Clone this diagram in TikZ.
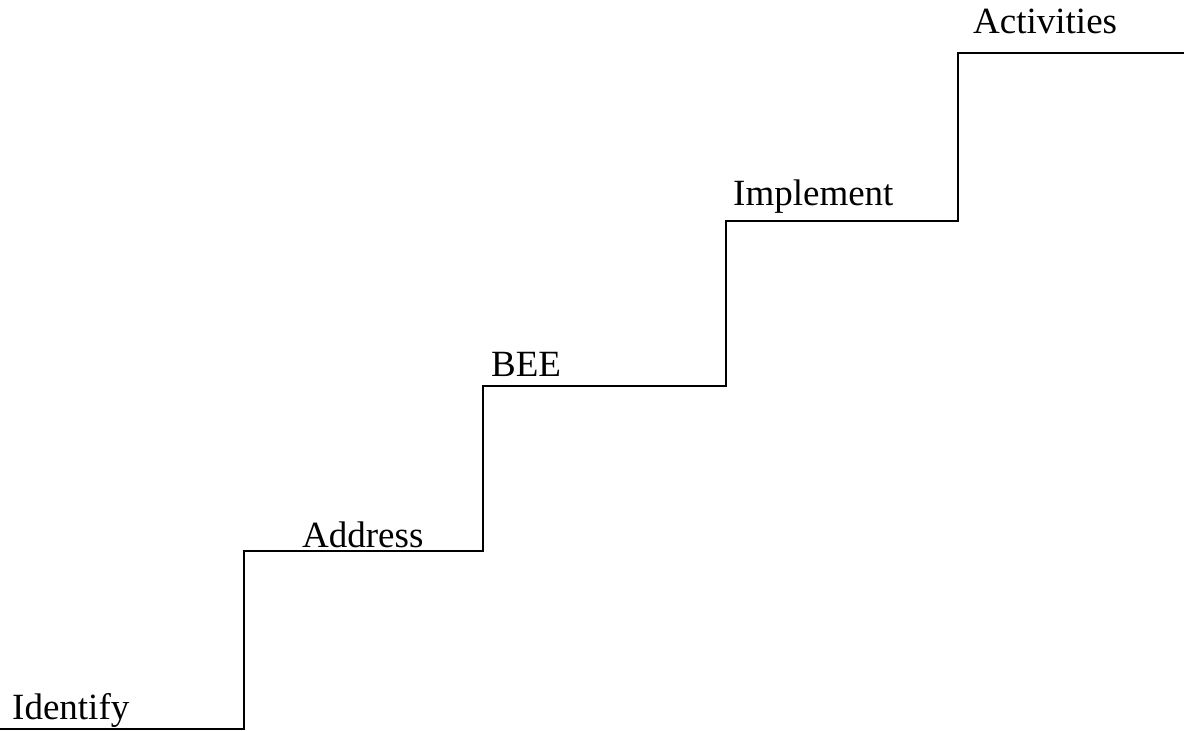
\documentclass[tikz,border=0pt]{standalone}
\usepackage{fontspec}
\setmainfont{Liberation Serif}
\usepackage{tikz}
\tikzset
{
  StepLabelStyle/.style =
  {
    anchor = base west,
    inner sep = 0pt,
    font = \fontsize{37}{40}\selectfont,
  },
  StairLineStyle/.style =
  {
    line width = 2pt,
    line join = miter,
  }
}

\begin{document}
\begin{tikzpicture}[x=1pt, y=-1pt]
  \useasboundingbox (0,0) rectangle (1184,731);
  % corners of the stairs
  \coordinate (s0) at (0,729);
  \coordinate (s1) at (244,729);
  \coordinate (s2) at (244,551);
  \coordinate (s3) at (483,551);
  \coordinate (s4) at (483,386);
  \coordinate (s5) at (726,386);
  \coordinate (s6) at (726,221);
  \coordinate (s7) at (958,221);
  \coordinate (s8) at (958,53);
  \coordinate (s9) at (1184,53);
  \draw[StairLineStyle] (s0) -- (s1) -- (s2) -- (s3) -- (s4) -- (s5)
    -- (s6) -- (s7) -- (s8) -- (s9);
  % step labels
  \node[StepLabelStyle] (identify) at (12,719) {Identify};
  \node[StepLabelStyle] (address) at (302,547) {Address};
  \node[StepLabelStyle] (bee) at (491,376) {BEE};
  \node[StepLabelStyle] (implement) at (733,205) {Implement};
  \node[StepLabelStyle] (activities) at (973,33) {Activities};
\end{tikzpicture}
\end{document}
